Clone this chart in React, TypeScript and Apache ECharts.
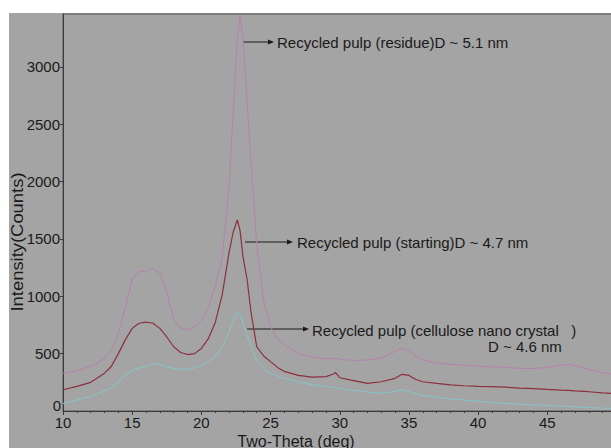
import React, { useEffect, useRef } from "react";
import * as echarts from "echarts";

const twoTheta = [10, 11, 12, 12.5, 13, 13.5, 14, 14.5, 15, 15.5, 16, 16.5, 17, 17.5, 18, 18.5, 19, 19.5, 20, 20.5, 21, 21.5, 22, 22.3, 22.6, 22.8, 23, 23.3, 23.6, 24, 24.5, 25, 25.5, 26, 27, 28, 29, 29.5, 29.7, 30, 31, 32, 33, 34, 34.5, 35, 35.5, 36, 37, 38, 39, 40, 41, 42, 43, 44, 45, 46, 46.5, 47, 48, 49, 50];

const residue = [330, 350, 390, 420, 460, 530, 680, 900, 1150, 1215, 1220, 1245, 1200, 1030, 800, 725, 705, 730, 790, 900, 1090, 1330, 1950, 2600, 3250, 3440, 3250, 2700, 2150, 1450, 960, 730, 630, 575, 500, 470, 455, 455, 460, 450, 440, 445, 460, 520, 545, 525, 480, 445, 420, 405, 400, 390, 385, 380, 372, 370, 380, 400, 405, 395, 360, 335, 315];

const starting = [185, 215, 250, 290, 330, 390, 500, 620, 720, 765, 775, 765, 720, 645, 560, 510, 492, 500, 545, 630, 770, 1010, 1380, 1560, 1665, 1570, 1350, 1150, 850, 560, 480, 430, 380, 345, 310, 295, 300, 320, 335, 290, 265, 240, 255, 285, 320, 310, 275, 255, 240, 228, 220, 215, 212, 208, 200, 195, 188, 182, 180, 175, 168, 158, 150];

const nanoCrystal = [65, 95, 125, 150, 175, 200, 255, 310, 355, 375, 390, 410, 405, 385, 370, 365, 362, 375, 395, 430, 480, 560, 690, 790, 865, 840, 770, 660, 560, 440, 365, 330, 305, 285, 255, 230, 215, 205, 205, 195, 180, 165, 155, 170, 185, 170, 150, 135, 120, 105, 95, 85, 72, 65, 58, 52, 48, 42, 40, 36, 30, 25, 22];

const seriesNames = ["Recycled pulp (residue)", "Recycled pulp (starting)", "Recycled pulp (cellulose nano crystal)"];
const annotationTexts = [
  "Recycled pulp (residue)D ~ 5.1 nm",
  "Recycled pulp (starting)D ~ 4.7 nm",
  "Recycled pulp (cellulose nano crystal   )",
  "D ~ 4.6 nm",
];
const xName = "Two-Theta (deg)";
const yName = "Intensity(Counts)";
const yZeroLabel = "0";

const FONT = "'Liberation Sans', Arial, sans-serif";

function pairs(ys: number[]) {
  return twoTheta.map((x, i) => [x, ys[i]]);
}

function arrow(x1: number, x2: number, y: number) {
  return [
    { type: "line", shape: { x1, y1: y, x2: x2 - 4, y2: y }, style: { stroke: "#1a1a1a", lineWidth: 1 } },
    {
      type: "polygon",
      shape: { points: [[x2 - 6, y - 2.5], [x2, y], [x2 - 6, y + 2.5]] },
      style: { fill: "#1a1a1a" },
    },
  ];
}

export default function App() {
  const ref = useRef<HTMLDivElement>(null);
  useEffect(() => {
    if (!ref.current) return;
    const chart = echarts.init(ref.current, undefined, { renderer: "svg" });
    const txt = (text: string, x: number, y: number, size = 15) => ({
      type: "text",
      x,
      y,
      style: { text, font: `${size}px ${FONT}`, fill: "#1a1a1a", textAlign: "left", textVerticalAlign: "middle" },
      z: 10,
    });
    chart.setOption({
      animation: false,
      backgroundColor: "#ffffff",
      graphic: [
        { type: "rect", shape: { x: 9, y: 13, width: 640, height: 440 }, style: { fill: "#a4a4a4" }, z: -10 },
        ...arrow(243, 274, 42),
        txt(annotationTexts[0], 277, 42),
        ...arrow(245, 293, 242),
        txt(annotationTexts[1], 297, 242),
        ...arrow(247, 309, 329),
        txt(annotationTexts[2], 312, 330),
        txt(annotationTexts[3], 488, 346),
        {
          type: "text",
          x: 61,
          y: 405,
          style: { text: yZeroLabel, font: `15px ${FONT}`, fill: "#1a1a1a", textAlign: "right", textVerticalAlign: "middle" },
          z: 10,
        },
        {
          type: "text",
          x: 296,
          y: 441,
          style: { text: xName, font: `16px ${FONT}`, fill: "#1a1a1a", textAlign: "center", textVerticalAlign: "middle" },
          z: 10,
        },
        {
          type: "text",
          x: 17,
          y: 242,
          rotation: Math.PI / 2,
          scaleX: 1.15,
          style: { text: yName, font: `16px ${FONT}`, fill: "#1a1a1a", textAlign: "center", textVerticalAlign: "middle" },
          z: 10,
        },
      ],
      grid: {
        left: 63,
        top: 14,
        right: 13.5,
        bottom: 37,
        show: true,
        borderColor: "#5a5a5a",
        borderWidth: 1,
        backgroundColor: "transparent",
      },
      xAxis: {
        type: "value",
        min: 10,
        max: 50,
        interval: 5,
        splitLine: { show: false },
        axisLine: { show: true, lineStyle: { color: "#3a3a3a", width: 1 } },
        axisTick: { show: true, length: 4, lineStyle: { color: "#3a3a3a" } },
        minorTick: { show: true, splitNumber: 5, length: 2, lineStyle: { color: "#3a3a3a" } },
        axisLabel: { color: "#1a1a1a", fontSize: 15, fontFamily: FONT, margin: 3, showMaxLabel: false, lineHeight: 16 },
      },
      yAxis: {
        type: "value",
        min: 0,
        max: 3460,
        interval: 500,
        splitLine: { show: false },
        axisLine: { show: true, lineStyle: { color: "#3a3a3a", width: 1 } },
        axisTick: { show: true, length: 3, lineStyle: { color: "#3a3a3a" } },
        axisLabel: {
          color: "#1a1a1a",
          fontSize: 15,
          fontFamily: FONT,
          margin: 3,
          showMaxLabel: false,
          showMinLabel: false,
          formatter: (v: number) => String(v),
        },
      },
      series: [
        {
          name: seriesNames[0],
          type: "line",
          data: pairs(residue),
          showSymbol: false,
          lineStyle: { color: "#b681b0", width: 1 },
          itemStyle: { color: "#b681b0" },
        },
        {
          name: seriesNames[1],
          type: "line",
          data: pairs(starting),
          showSymbol: false,
          lineStyle: { color: "#8c2f3f", width: 1.2 },
          itemStyle: { color: "#8c2f3f" },
        },
        {
          name: seriesNames[2],
          type: "line",
          data: pairs(nanoCrystal),
          showSymbol: false,
          lineStyle: { color: "#86c5c9", width: 1 },
          itemStyle: { color: "#86c5c9" },
        },
      ],
    });
    return () => chart.dispose();
  }, []);
  return (
    <div style={{ position: "fixed", left: 0, top: 0, width: 611, height: 448, overflow: "hidden", background: "#fff" }}>
      <div ref={ref} style={{ position: "absolute", left: 0, top: 0, width: 630, height: 448 }} />
    </div>
  );
}
